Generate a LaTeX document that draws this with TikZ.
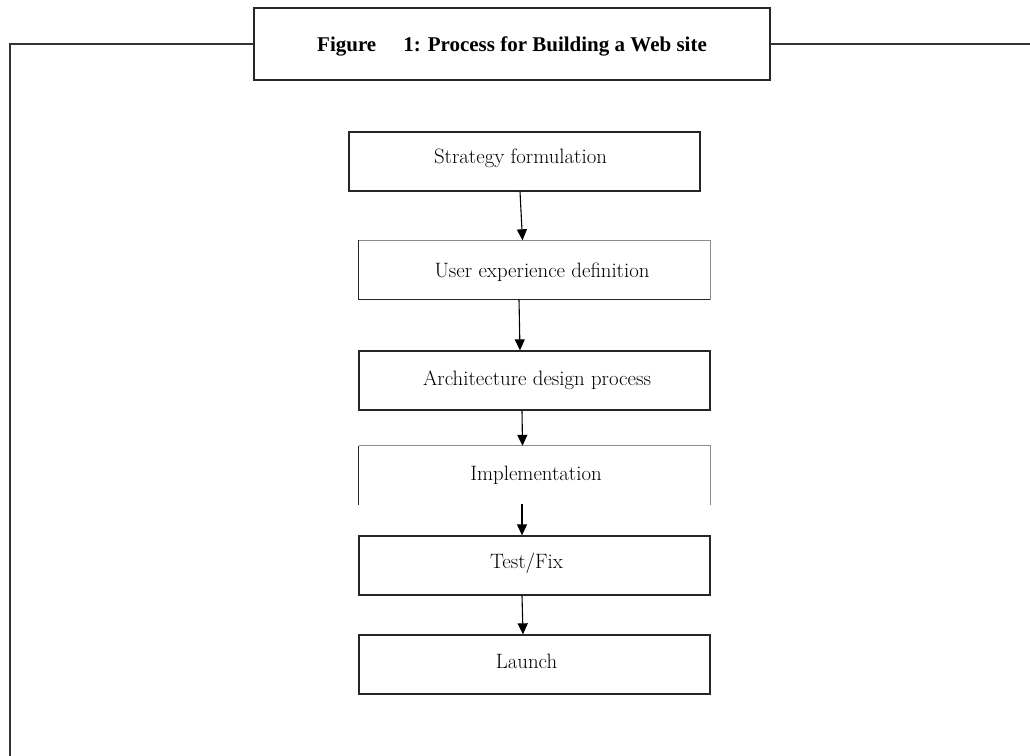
\documentclass[tikz,border=0pt]{standalone}
\usepackage{fontspec}
\newfontfamily\captionfont{Liberation Serif}
\usetikzlibrary{arrows.meta}
\begin{document}
\begin{tikzpicture}[x=1pt,y=-1pt,
  frameline/.style={line width=1.5pt, draw=black!80},
  boxline/.style={line width=1.3pt, draw=black!85},
  faintline/.style={line width=1.2pt, draw=black!45},
  stagebox/.style={minimum width=351pt, minimum height=59pt, inner sep=0pt},
  stagetext/.style={anchor=base, inner sep=0pt, font=\fontsize{20.8}{24}\selectfont},
  flow/.style={line width=1.1pt, draw=black, -{Triangle[length=11pt,width=10pt]}}
]
\useasboundingbox (0,0) rectangle (1030,755);

% caption box and the frame hanging from it
\node[boxline, draw, minimum width=516pt, minimum height=72pt, inner sep=0pt] (title) at (512,44) {};
\node[anchor=base, inner sep=0pt, font=\captionfont\bfseries\fontsize{21}{24}\selectfont] (caption) at (512,51)
  {Figure\hspace{27pt}1: Process for Building a Web site};
\coordinate (frameleft) at (10,44);
\coordinate (framebottom) at (10,756);
\coordinate (frameright) at (1031,44);
\draw[frameline] (title.west) -- (frameleft) -- (framebottom);
\draw[frameline] (title.east) -- (frameright);

% process stages
\node[stagebox, boxline, draw] (b1) at (524.5,161.5) {};
\node[stagebox] (b2) at (534.5,270) {};
\draw[boxline] (b2.north west) -- (b2.south west) -- (b2.south east);
\draw[faintline] (b2.south east) -- (b2.north east) -- (b2.north west);
\node[stagebox, boxline, draw] (b3) at (534.5,380.5) {};
\node[stagebox] (b4) at (534.5,475.5) {};
\draw[boxline] (b4.south west) -- (b4.north west);
\draw[faintline] (b4.north west) -- (b4.north east) -- (b4.south east);
\node[stagebox, boxline, draw] (b5) at (534.5,565.5) {};
\node[stagebox, boxline, draw] (b6) at (534.5,664.5) {};

\node[stagetext] (t1) at (520.5,163) {Strategy formulation};
\node[stagetext] (t2) at (542,277) {User experience definition};
\node[stagetext] (t3) at (537,385) {Architecture design process};
\node[stagetext] (t4) at (536,480) {Implementation};
\node[stagetext] (t5) at (526.5,568) {Test/Fix};
\node[stagetext] (t6) at (526.5,668) {Launch};

% connectors
\draw[flow] ([xshift=-4.5pt]b1.south) -- ([xshift=-12pt]b2.north);
\draw[flow] ([xshift=-15.5pt]b2.south) -- ([xshift=-14.5pt]b3.north);
\draw[flow] ([xshift=-12.5pt]b3.south) -- ([xshift=-12pt]b4.north);
\draw[flow] ([xshift=-12.5pt,yshift=1pt]b4.south) -- ([xshift=-12.5pt]b5.north);
\draw[flow] ([xshift=-12.5pt]b5.south) -- ([xshift=-11.5pt]b6.north);
\end{tikzpicture}
\end{document}
